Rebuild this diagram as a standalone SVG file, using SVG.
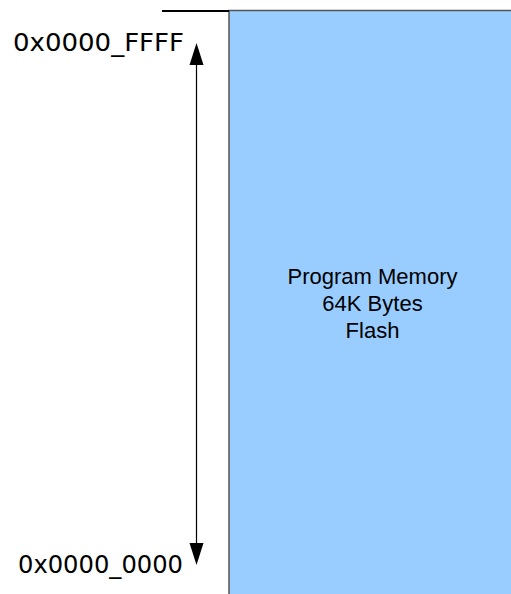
<svg xmlns="http://www.w3.org/2000/svg" width="511" height="594" viewBox="0 0 511 594">
  <style>
    .addr { font-family: "DejaVu Sans", sans-serif; font-size: 25.5px; fill: #000; }
    .mem { font-family: "Liberation Sans", Arial, sans-serif; font-size: 22px; fill: #000; text-anchor: middle; }
    .arrowhead { fill: #000; }
  </style>

  <!-- program memory block -->
  <g id="program-memory">
    <rect x="229" y="10.5" width="290" height="590" fill="#99ccff" stroke="#555" stroke-width="1.5"/>
    <text class="mem" x="372.5" y="284">Program Memory</text>
    <text class="mem" x="372.5" y="311">64K Bytes</text>
    <text class="mem" x="372.5" y="338">Flash</text>
  </g>

  <!-- address labels -->
  <g id="addr-top">
    <text class="addr" x="13" y="51" textLength="171" lengthAdjust="spacingAndGlyphs">0x0000_FFFF</text>
  </g>
  <g id="addr-bottom">
    <text class="addr" x="18" y="573" textLength="165" lengthAdjust="spacingAndGlyphs">0x0000_0000</text>
  </g>

  <!-- connectors -->
  <g id="connectors">
    <line x1="162" y1="11" x2="229" y2="11" stroke="#000" stroke-width="2"/>
    <line x1="196.5" y1="60" x2="196.5" y2="548" stroke="#000" stroke-width="1.2"/>
    <path class="arrowhead" d="M196.5,43 L203.5,65 L189.5,65 Z"/>
    <path class="arrowhead" d="M196.5,565 L203.5,543 L189.5,543 Z"/>
  </g>
</svg>
